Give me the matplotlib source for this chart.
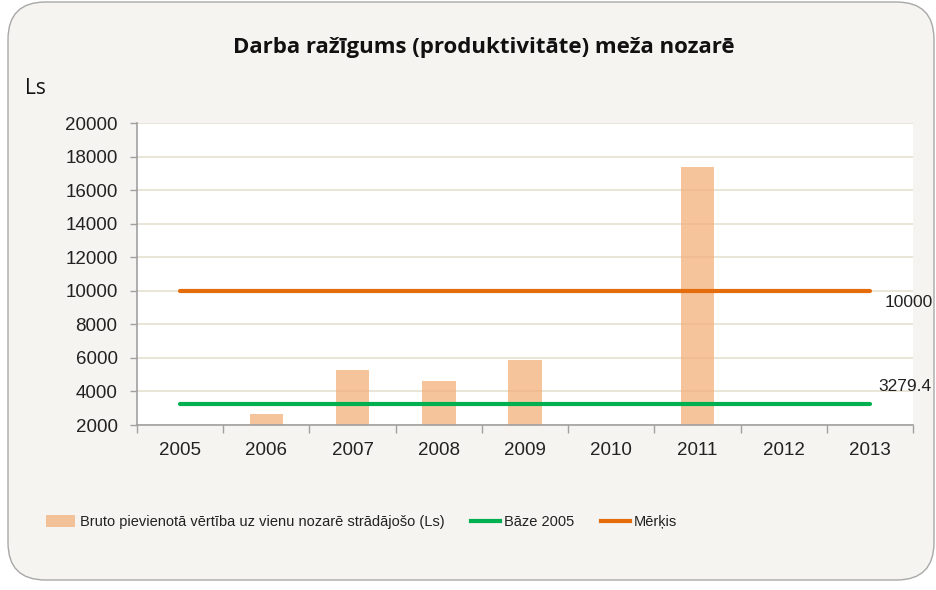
import matplotlib
matplotlib.use("Agg")
import matplotlib.pyplot as plt
from matplotlib.patches import FancyBboxPatch, Patch
from matplotlib.lines import Line2D
from matplotlib import font_manager as fm

years = ["2005", "2006", "2007", "2008", "2009", "2010", "2011", "2012", "2013"]
gva_per_worker = [None, 2650, 5300, 4650, 5850, None, 17400, None, None]
base_2005 = 3279.4
target = 10000
yticks = [2000, 4000, 6000, 8000, 10000, 12000, 14000, 16000, 18000, 20000]

title = "Darba ražīgums (produktivitāte) meža nozarē"
unit = "Ls"
bar_label = "Bruto pievienotā vērtība uz vienu nozarē strādājošo (Ls)"
base_label = "Bāze 2005"
target_label = "Mērķis"

names = {f.name for f in fm.fontManager.ttflist}
narrow = "Liberation Sans"
for cand in ["Liberation Sans Narrow", "DejaVu Sans Condensed"]:
    if cand in names:
        narrow = cand
        break
leg_size = 12 if narrow == "Liberation Sans Narrow" else 10.5

W, H = 936, 590
fig = plt.figure(figsize=(W / 100, H / 100), dpi=100)
fig.patch.set_facecolor("white")

frame = FancyBboxPatch((8 / W, 10 / H), (934 - 8) / W, (588 - 10) / H,
                       boxstyle="round,pad=0,rounding_size=0.04",
                       transform=fig.transFigure, facecolor="#F5F4F0",
                       edgecolor="#A8A8A8", linewidth=1.0, zorder=-5,
                       mutation_aspect=W / H)
fig.patches.append(frame)

ax = fig.add_axes([137 / W, (H - 425) / H, (913 - 137) / W, (425 - 123) / H])
ax.set_zorder(1)
ax.set_facecolor("white")

x = list(range(len(years)))
bx = [i for i, v in zip(x, gva_per_worker) if v is not None]
bv = [v for v in gva_per_worker if v is not None]
ax.bar(bx, bv, width=0.39, color="#F2B07A", alpha=0.75, zorder=2)

ax.plot([x[0], x[-1]], [base_2005, base_2005], color="#00B050", lw=3,
        solid_capstyle="round", zorder=3)
ax.plot([x[0], x[-1]], [target, target], color="#E46C0A", lw=3,
        solid_capstyle="round", zorder=3)

ax.annotate(f"{target:g}", xy=(x[-1], target), xytext=(15, -12),
            textcoords="offset pixels", fontsize=12.5, family="Liberation Sans",
            color="#222222", va="center", ha="left", annotation_clip=False)
ax.annotate(f"{base_2005:g}", xy=(x[-1], base_2005), xytext=(8, 17),
            textcoords="offset pixels", fontsize=12.5, family="Liberation Sans",
            color="#222222", va="center", ha="left", annotation_clip=False)

ax.set_xlim(-0.5, len(years) - 0.5)
ax.set_ylim(2000, 20000)
ax.set_yticks(yticks)
ax.set_yticklabels([str(t) for t in yticks], family="Liberation Sans",
                   fontsize=13.5, color="#222222")
ax.yaxis.grid(True, color="#E5E1D1", lw=1.2, zorder=0)
ax.set_axisbelow(True)

ax.set_xticks([i - 0.5 for i in range(len(years) + 1)])
ax.set_xticklabels([])
ax.set_xticks(x, minor=True)
ax.set_xticklabels(years, minor=True, family="Liberation Sans", fontsize=13.5,
                   color="#222222")
ax.tick_params(axis="x", which="major", length=6, color="#A0A0A0", width=1)
ax.tick_params(axis="x", which="minor", length=0, pad=12)
ax.tick_params(axis="y", length=5, color="#A0A0A0", width=1, pad=9)

for s in ["top", "right"]:
    ax.spines[s].set_visible(False)
for s in ["left", "bottom"]:
    ax.spines[s].set_color("#A0A0A0")
    ax.spines[s].set_linewidth(1.2)

fig.text(484 / W, (H - 48) / H, title, ha="center", va="center",
         fontsize=16, fontweight="bold", family="Open Sans", color="#111111")
fig.text(25 / W, (H - 88) / H, unit, ha="left", va="center",
         fontsize=15, family="Open Sans", color="#111111")

handles = [Patch(facecolor="#F2B07A", alpha=0.75, edgecolor="none"),
           Line2D([], [], color="#00B050", lw=3),
           Line2D([], [], color="#E46C0A", lw=3)]
leg = fig.legend(handles, [bar_label, base_label, target_label],
                 loc="center left", bbox_to_anchor=(33 / W, (H - 522) / H),
                 ncol=3, frameon=False, handlelength=2.0, handleheight=0.8,
                 handletextpad=0.3, columnspacing=1.8,
                 prop={"family": narrow, "size": leg_size})
for t in leg.get_texts():
    t.set_color("#222222")

fig.savefig("out.png", dpi=100, facecolor="white")
